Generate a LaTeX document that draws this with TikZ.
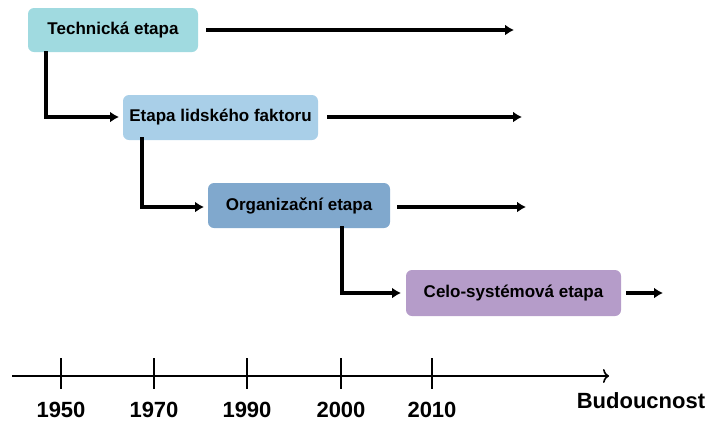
\documentclass[tikz,border=0pt]{standalone}
\usepackage{fontspec}
\setmainfont{Liberation Sans}
\usetikzlibrary{arrows.meta}
\definecolor{techc}{HTML}{A0DAE0}
\definecolor{humanc}{HTML}{A9CFE8}
\definecolor{orgc}{HTML}{80A8CD}
\definecolor{sysc}{HTML}{B59CC9}
\tikzset{
  stage/.style={draw=none, inner sep=0pt,
    font=\fontsize{17}{19}\selectfont\bfseries},
  flow/.style={line width=4pt, -{Latex[length=9pt,width=11pt]}},
  axis/.style={line width=1.6pt},
  tick/.style={line width=1.6pt},
  year/.style={font=\fontsize{22}{24}\selectfont\bfseries, anchor=center}
}
\begin{document}
\begin{tikzpicture}[x=1pt,y=-1pt]
\useasboundingbox (0,0) rectangle (710,421);
% stage boxes
\fill[techc, rounded corners=6pt] (28,8) rectangle (198,52);
\node[stage] (s1) at (113,30) {Technická etapa};
\coordinate (s1e) at (198,30);
\coordinate (s1b) at (46,52);
\fill[humanc, rounded corners=6pt] (123,95) rectangle (318,140);
\node[stage] (s2) at (220.5,117.5) {Etapa lidského faktoru};
\coordinate (s2w) at (123,117);
\coordinate (s2e) at (318,117);
\coordinate (s2b) at (142,140);
\fill[orgc, rounded corners=6pt] (208,183) rectangle (390,228);
\node[stage] (s3) at (299,205.5) {Organizační etapa};
\coordinate (s3w) at (208,207);
\coordinate (s3e) at (390,207);
\coordinate (s3b) at (342,228);
\fill[sysc, rounded corners=6pt] (406,270) rectangle (621,316);
\node[stage] (s4) at (513.5,293) {Celo-systémová etapa};
\coordinate (s4w) at (406,293);
\coordinate (s4e) at (621,293);
% outgoing arrows
\coordinate (t1) at (514,30);
\coordinate (t2) at (522,117);
\coordinate (t3) at (526,207);
\coordinate (t4) at (663,293);
\draw[flow] ([xshift=8pt]s1e) -- (t1);
\draw[flow] ([xshift=9pt]s2e) -- (t2);
\draw[flow] ([xshift=7pt]s3e) -- (t3);
\draw[flow] ([xshift=5pt]s4e) -- (t4);
% elbow connectors
\draw[flow] ([yshift=1pt]s1b) |- ([xshift=-4pt]s2w);
\draw[flow] ([yshift=3pt]s2b) |- ([xshift=-4pt]s3w);
\draw[flow] ([yshift=2pt]s3b) |- ([xshift=-5pt]s4w);
% timeline
\coordinate (a0) at (12,376);
\coordinate (a1) at (609,376);
\draw[axis, -{To[length=6pt,width=14pt]}] (a0) -- (a1);
\foreach \x/\yr in {61/1950,154/1970,247/1990,341/2000,432/2010}{
  \draw[tick] (\x,358) -- (\x,389);
  \node[year] (y\yr) at (\x,410) {\yr};
}
\node[font=\fontsize{22}{24}\selectfont\bfseries] (future) at (641,401) {Budoucnost};
\end{tikzpicture}
\end{document}
